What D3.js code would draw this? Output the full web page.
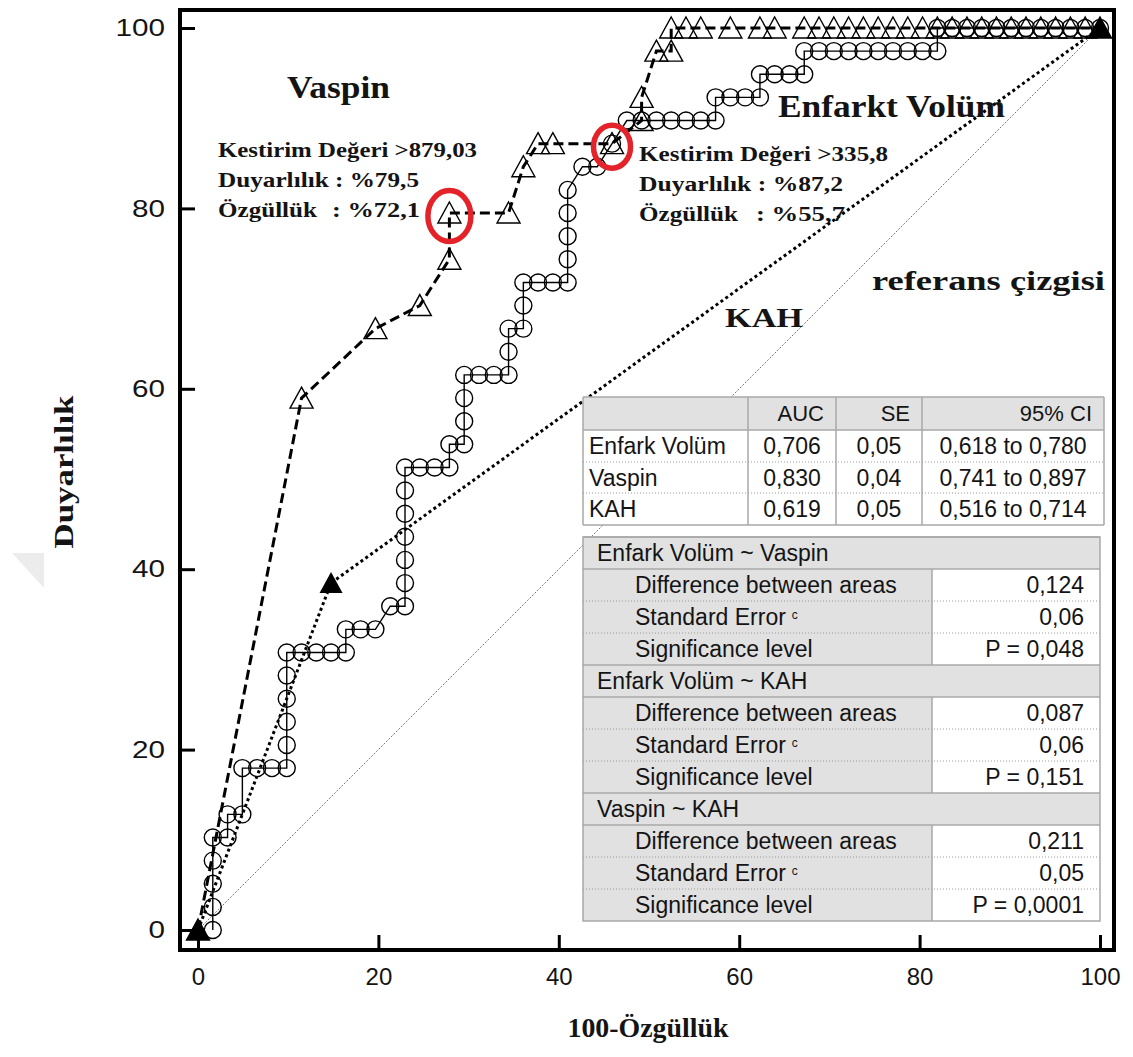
<!DOCTYPE html>
<html>
<head>
<meta charset="utf-8">
<script src="https://cdn.jsdelivr.net/npm/d3@7"></script>
<style>
  body { margin: 0; background: #fff; }
  svg { display: block; }
</style>
</head>
<body>
<div id="chart"></div>
<script>
// ROC curves: x = 100-specificity, y = sensitivity
const majorTicks = [0, 20, 40, 60, 80, 100];
const minorTicks = [5, 10, 15, 25, 30, 35, 45, 50, 55, 65, 70, 75, 85, 90, 95];

const vaspinX = [0, 11.48, 19.67, 24.59, 27.87, 27.87, 34.43, 36.07, 37.70, 39.34, 45.90,
  49.18, 49.18, 50.82, 52.46, 52.46, 54.10, 55.74, 59.02, 62.30, 63.93,
  67.21, 68.85, 70.49, 72.13, 73.77, 75.41, 77.05, 78.69, 80.33, 81.97,
  83.61, 85.25, 86.89, 88.52, 90.16, 91.80, 93.44, 95.08, 96.72, 98.36, 100];
const vaspinY = [0, 58.97, 66.67, 69.23, 74.36, 79.49, 79.49, 84.62, 87.18, 87.18, 87.18,
  89.74, 92.31, 97.44, 97.44, 100, 100, 100, 100, 100, 100,
  100, 100, 100, 100, 100, 100, 100, 100, 100, 100,
  100, 100, 100, 100, 100, 100, 100, 100, 100, 100, 100];

const enfarktX = [1.64, 1.64, 1.64, 1.64, 1.64, 3.28, 3.28, 4.92, 4.92, 6.56, 8.20,
  9.84, 9.84, 9.84, 9.84, 9.84, 9.84, 11.48, 13.11, 14.75, 16.39, 16.39, 18.03, 19.67,
  21.31, 22.95, 22.95, 22.95, 22.95, 22.95, 22.95, 22.95, 24.59, 26.23, 27.87, 27.87,
  29.51, 29.51, 29.51, 29.51, 31.15, 32.79, 34.43, 34.43, 34.43, 36.07, 36.07, 36.07,
  37.70, 39.34, 40.98, 40.98, 40.98, 40.98, 40.98, 42.62, 44.26, 45.90,
  47.54, 49.18, 50.82, 52.46, 54.10, 55.74, 57.38, 57.38, 59.02, 60.66, 62.30,
  62.30, 63.93, 65.57, 67.21, 67.21, 68.85, 70.49, 72.13, 73.77, 75.41, 77.05, 78.69,
  80.33, 81.97, 81.97, 83.61, 85.25, 86.89, 88.52, 90.16, 91.80, 93.44, 95.08, 96.72,
  98.36, 100];
const enfarktY = [0, 2.56, 5.13, 7.69, 10.26, 10.26, 12.82, 12.82, 17.95, 17.95, 17.95,
  17.95, 20.51, 23.08, 25.64, 28.21, 30.77, 30.77, 30.77, 30.77, 30.77, 33.33, 33.33, 33.33,
  35.90, 35.90, 38.46, 41.03, 43.59, 46.15, 48.72, 51.28, 51.28, 51.28, 51.28, 53.85,
  53.85, 56.41, 58.97, 61.54, 61.54, 61.54, 61.54, 64.10, 66.67, 66.67, 69.23, 71.79,
  71.79, 71.79, 71.79, 74.36, 76.92, 79.49, 82.05, 84.62, 84.62, 87.18,
  89.74, 89.74, 89.74, 89.74, 89.74, 89.74, 89.74, 92.31, 92.31, 92.31, 92.31,
  94.87, 94.87, 94.87, 94.87, 97.44, 97.44, 97.44, 97.44, 97.44, 97.44, 97.44, 97.44,
  97.44, 97.44, 100, 100, 100, 100, 100, 100, 100, 100, 100, 100,
  100, 100];

const kahX = [0, 14.75, 100];
const kahY = [0, 38.46, 100];
const refX = [0, 100];
const refY = [0, 100];

// chosen cut-off points (ringed in red)
const cutoffX = [27.87, 45.90];
const cutoffY = [79.49, 87.18];

const aucHeader = ["", "AUC", "SE", "95% CI"];
const aucNames = ["Enfark Volüm", "Vaspin", "KAH"];
const aucValues = ["0,706", "0,830", "0,619"];
const seValues = ["0,05", "0,04", "0,05"];
const ciValues = ["0,618 to 0,780", "0,741 to 0,897", "0,516 to 0,714"];

const pairNames = ["Enfark Volüm ~ Vaspin", "Enfark Volüm ~ KAH", "Vaspin ~ KAH"];
const pairStats = ["Difference between areas", "Standard Error", "Significance level"];
const diffValues = ["0,124", "0,087", "0,211"];
const pairSE = ["0,06", "0,06", "0,05"];
const pValues = ["P = 0,048", "P = 0,151", "P = 0,0001"];

const W = 1133, H = 1057;
const serif = "'Liberation Serif', 'Times New Roman', serif";
const sans = "'Liberation Sans', Arial, sans-serif";
const ink = "#141414";

const svg = d3.select("#chart").append("svg")
    .attr("width", W)
    .attr("height", H);

const x = d3.scaleLinear().domain([0, 100]).range([198, 1100]);
const y = d3.scaleLinear().domain([0, 100]).range([930, 28]);

const pts = (xs, ys) => xs.map((v, i) => [v, ys[i]]);
const line = d3.line().x(d => x(d[0])).y(d => y(d[1]));
const tri = "M0,-11L11.5,10L-11.5,10Z";

// faint watermark at the left edge
svg.append("path")
    .attr("d", "M12,553L44,553L44,588Z")
    .attr("fill", "#ececec");

// lines
svg.append("path").datum(pts(refX, refY))
    .attr("d", line).attr("fill", "none")
    .attr("stroke", "#777").attr("stroke-width", 1)
    .attr("stroke-dasharray", "2,1.5");

svg.append("path").datum(pts(kahX, kahY))
    .attr("d", line).attr("fill", "none")
    .attr("stroke", "#000").attr("stroke-width", 3)
    .attr("stroke-dasharray", "3,3");

svg.append("path").datum(pts(enfarktX, enfarktY))
    .attr("d", line).attr("fill", "none")
    .attr("stroke", "#000").attr("stroke-width", 1.4);

svg.append("path").datum(pts(vaspinX, vaspinY))
    .attr("d", line).attr("fill", "none")
    .attr("stroke", "#000").attr("stroke-width", 3)
    .attr("stroke-dasharray", "10,5");

// markers
svg.append("g").selectAll("circle")
    .data(pts(enfarktX, enfarktY))
  .enter().append("circle")
    .attr("cx", d => x(d[0]))
    .attr("cy", d => y(d[1]))
    .attr("r", 8.5)
    .attr("fill", "none")
    .attr("stroke", "#000")
    .attr("stroke-width", 1.4);

svg.append("g").selectAll("path")
    .data(pts(vaspinX, vaspinY))
  .enter().append("path")
    .attr("d", tri)
    .attr("transform", d => "translate(" + x(d[0]) + "," + y(d[1]) + ")")
    .attr("fill", "none")
    .attr("stroke", "#000")
    .attr("stroke-width", 1.4);

svg.append("g").selectAll("path")
    .data(pts(kahX, kahY))
  .enter().append("path")
    .attr("d", tri)
    .attr("transform", d => "translate(" + x(d[0]) + "," + y(d[1]) + ")")
    .attr("fill", "#000");

// red rings round the cut-off points
const ringRx = [21.5, 18.5], ringRy = [25.5, 21.5];
svg.append("g").selectAll("ellipse")
    .data(pts(cutoffX, cutoffY))
  .enter().append("ellipse")
    .attr("cx", d => x(d[0]))
    .attr("cy", d => y(d[1]) + 3)
    .attr("rx", (d, i) => ringRx[i])
    .attr("ry", (d, i) => ringRy[i])
    .attr("fill", "none")
    .attr("stroke", "#e3222a")
    .attr("stroke-width", 5.5);

// annotations
const notes = [
  { t: "Vaspin", x: 287, y: 98, s: 32, w: 103 },
  { t: "Kestirim Değeri >879,03", x: 218, y: 157, s: 21, w: 259 },
  { t: "Duyarlılık : %79,5", x: 218, y: 187, s: 21, w: 201 },
  { t: "Özgüllük", x: 218, y: 217, s: 21, w: 99 },
  { t: ": %72,1", x: 332, y: 217, s: 21, w: 88 },
  { t: "Enfarkt Volüm", x: 778, y: 117, s: 32, w: 227 },
  { t: "Kestirim Değeri >335,8", x: 639, y: 161, s: 21, w: 249 },
  { t: "Duyarlılık : %87,2", x: 639, y: 191, s: 21, w: 204 },
  { t: "Özgüllük", x: 639, y: 221, s: 21, w: 99 },
  { t: ": %55,7", x: 756, y: 221, s: 21, w: 89 },
  { t: "referans çizgisi", x: 872, y: 290, s: 27, w: 233 },
  { t: "KAH", x: 725, y: 327, s: 28, w: 78 }
];
svg.append("g").selectAll("text")
    .data(notes)
  .enter().append("text")
    .attr("x", d => d.x)
    .attr("y", d => d.y)
    .attr("textLength", d => d.w)
    .attr("lengthAdjust", "spacingAndGlyphs")
    .style("font-family", serif)
    .style("font-weight", "bold")
    .style("font-size", d => d.s + "px")
    .attr("fill", ink)
    .text(d => d.t);

// AUC table
const t1Cols = [583, 748, 836, 922, 1104];
const t1Rows = [397, 430, 462, 493, 525];
const t1 = svg.append("g");
t1.append("rect")
    .attr("x", t1Cols[0]).attr("y", t1Rows[0])
    .attr("width", t1Cols[4] - t1Cols[0]).attr("height", t1Rows[4] - t1Rows[0])
    .attr("fill", "#fff");
t1.append("rect")
    .attr("x", t1Cols[0]).attr("y", t1Rows[0])
    .attr("width", t1Cols[4] - t1Cols[0]).attr("height", t1Rows[1] - t1Rows[0])
    .attr("fill", "#e1e1e1");
t1Cols.forEach(c => {
  t1.append("line").attr("x1", c).attr("x2", c)
      .attr("y1", t1Rows[0]).attr("y2", t1Rows[4])
      .attr("stroke", "#a8a8a8").attr("stroke-width", 1.5);
});
t1Rows.forEach((r, i) => {
  t1.append("line").attr("x1", t1Cols[0]).attr("x2", t1Cols[4])
      .attr("y1", r).attr("y2", r)
      .attr("stroke", (i == 2 || i == 3) ? "#9a9a9a" : "#a8a8a8")
      .attr("stroke-width", (i == 2 || i == 3) ? 1 : 1.5)
      .attr("stroke-dasharray", (i == 2 || i == 3) ? "1,2" : null);
});
aucHeader.forEach((h, j) => {
  t1.append("text")
      .attr("x", t1Cols[j + 1] - 12)
      .attr("y", (t1Rows[0] + t1Rows[1]) / 2)
      .attr("dy", "0.36em")
      .attr("text-anchor", "end")
      .style("font-family", sans).style("font-size", "22px")
      .attr("fill", ink)
      .text(h);
});
aucNames.forEach((n, i) => {
  const cy = (t1Rows[i + 1] + t1Rows[i + 2]) / 2;
  const cells = [aucValues[i], seValues[i], ciValues[i]];
  t1.append("text")
      .attr("x", t1Cols[0] + 6).attr("y", cy).attr("dy", "0.36em")
      .style("font-family", sans).style("font-size", "23px")
      .attr("fill", ink).text(n);
  cells.forEach((v, j) => {
    t1.append("text")
        .attr("x", (t1Cols[j + 1] + t1Cols[j + 2]) / 2)
        .attr("y", cy).attr("dy", "0.36em")
        .attr("text-anchor", "middle")
        .style("font-family", sans).style("font-size", "23px")
        .attr("fill", ink).text(v);
  });
});

// pairwise comparison table
const t2Left = 583, t2Split = 932, t2Right = 1100, t2Top = 537, t2Row = 32;
const t2 = svg.append("g");
pairNames.forEach((p, g) => {
  const top = t2Top + g * 4 * t2Row;
  const vals = [diffValues[g], pairSE[g], pValues[g]];
  t2.append("rect")
      .attr("x", t2Left).attr("y", top)
      .attr("width", t2Right - t2Left).attr("height", t2Row)
      .attr("fill", "#e1e1e1");
  t2.append("text")
      .attr("x", t2Left + 14).attr("y", top + t2Row / 2).attr("dy", "0.36em")
      .style("font-family", sans).style("font-size", "23px")
      .attr("fill", ink).text(p);
  pairStats.forEach((s, k) => {
    const rt = top + (k + 1) * t2Row;
    t2.append("rect")
        .attr("x", t2Left).attr("y", rt)
        .attr("width", t2Split - t2Left).attr("height", t2Row)
        .attr("fill", "#e1e1e1");
    t2.append("rect")
        .attr("x", t2Split).attr("y", rt)
        .attr("width", t2Right - t2Split).attr("height", t2Row)
        .attr("fill", "#fff");
    const lab = t2.append("text")
        .attr("x", t2Left + 52).attr("y", rt + t2Row / 2).attr("dy", "0.36em")
        .style("font-family", sans).style("font-size", "23px")
        .attr("fill", ink).text(s);
    if (k == 1) {
      lab.append("tspan").attr("dx", 6).attr("dy", "-0.5em")
          .style("font-size", "12px").text("c");
    }
    t2.append("text")
        .attr("x", t2Right - 16).attr("y", rt + t2Row / 2).attr("dy", "0.36em")
        .attr("text-anchor", "end")
        .style("font-family", sans).style("font-size", "23px")
        .attr("fill", ink).text(vals[k]);
    if (k > 0) {
      t2.append("line").attr("x1", t2Left).attr("x2", t2Right)
          .attr("y1", rt).attr("y2", rt)
          .attr("stroke", "#9a9a9a").attr("stroke-dasharray", "1,2");
    }
  });
  t2.append("line").attr("x1", t2Split).attr("x2", t2Split)
      .attr("y1", top + t2Row).attr("y2", top + 4 * t2Row)
      .attr("stroke", "#a8a8a8").attr("stroke-width", 1.5);
  [top, top + t2Row].forEach(r => {
    t2.append("line").attr("x1", t2Left).attr("x2", t2Right)
        .attr("y1", r).attr("y2", r)
        .attr("stroke", "#a8a8a8").attr("stroke-width", 1.5);
  });
});
t2.append("rect")
    .attr("x", t2Left).attr("y", t2Top)
    .attr("width", t2Right - t2Left).attr("height", 12 * t2Row)
    .attr("fill", "none").attr("stroke", "#a8a8a8").attr("stroke-width", 1.5);

// axes, ticks pointing inward
const xAxis = svg.append("g").attr("transform", "translate(0,950)");
xAxis.call(d3.axisBottom(x).tickValues(minorTicks).tickSize(-8).tickFormat(""));
xAxis.call(d3.axisBottom(x).tickValues(majorTicks).tickSize(-15).tickPadding(18));

const yAxis = svg.append("g").attr("transform", "translate(180,0)");
yAxis.call(d3.axisLeft(y).tickValues(minorTicks).tickSize(-8).tickFormat(""));
yAxis.call(d3.axisLeft(y).tickValues(majorTicks).tickSize(-15).tickPadding(15));

svg.selectAll(".domain").remove();
svg.selectAll(".tick line").attr("stroke", "#000").attr("stroke-width", 3);
svg.selectAll(".tick text")
    .style("font-family", sans)
    .style("font-size", "24px")
    .attr("fill", ink);
yAxis.selectAll(".tick text")
    .attr("textLength", d => String(d).length * 16.5)
    .attr("lengthAdjust", "spacingAndGlyphs");

// frame
svg.append("rect")
    .attr("x", 180).attr("y", 10)
    .attr("width", 934).attr("height", 940)
    .attr("fill", "none")
    .attr("stroke", "#000")
    .attr("stroke-width", 4);

// axis titles
svg.append("text")
    .attr("x", 648).attr("y", 1037)
    .attr("text-anchor", "middle")
    .attr("textLength", 161).attr("lengthAdjust", "spacingAndGlyphs")
    .style("font-family", serif).style("font-weight", "bold").style("font-size", "28px")
    .attr("fill", ink)
    .text("100-Özgüllük");

svg.append("text")
    .attr("transform", "translate(73,472) rotate(-90)")
    .attr("text-anchor", "middle")
    .attr("textLength", 153).attr("lengthAdjust", "spacingAndGlyphs")
    .style("font-family", serif).style("font-weight", "bold").style("font-size", "28px")
    .attr("fill", ink)
    .text("Duyarlılık");
</script>
</body>
</html>
